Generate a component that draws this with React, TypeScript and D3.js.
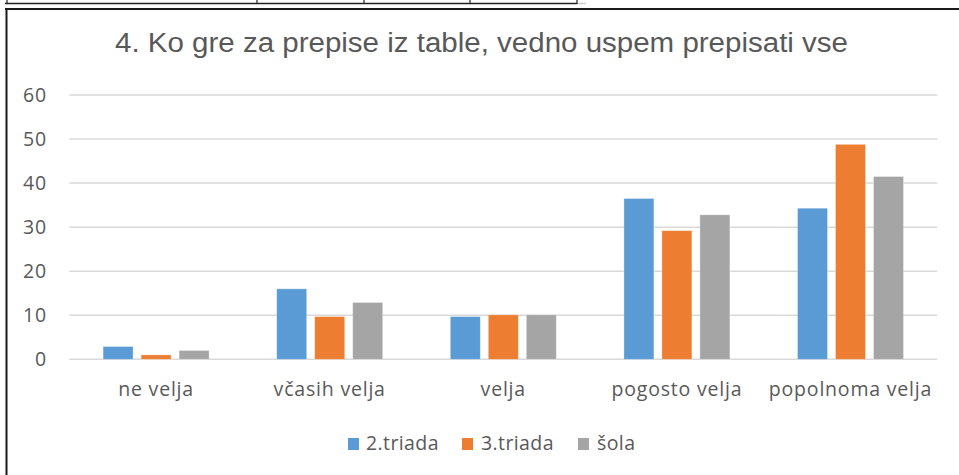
import React from "react";
import * as d3 from "d3";

const categories = ["ne velja", "včasih velja", "velja", "pogosto velja", "popolnoma velja"];
const seriesNames = ["2.triada", "3.triada", "šola"];
const triada2 = [2.9, 16.0, 9.7, 36.5, 34.3];
const triada3 = [1.0, 9.7, 10.1, 29.2, 48.8];
const sola = [2.0, 12.9, 10.1, 32.8, 41.5];
const seriesValues = [triada2, triada3, sola];
const colors = ["#5B9BD5", "#ED7D31", "#A5A5A5"];
const yTicks = [0, 10, 20, 30, 40, 50, 60];
const title = "4. Ko gre za prepise iz table, vedno uspem prepisati vse";

const W = 959;
const H = 475;
const plotLeft = 69.3;
const plotRight = 937.3;
const plotTop = 95;
const plotBottom = 359.3;

export default function App() {
  const x0 = d3.scaleBand<string>().domain(categories).range([plotLeft, plotRight]).paddingInner(0).paddingOuter(0);
  const groupW = 106;
  const off = (x0.bandwidth() - groupW) / 2;
  const x1 = d3.scaleBand<string>().domain(seriesNames).range([off, off + groupW]).paddingInner(8 / 38).paddingOuter(0);
  const y = d3.scaleLinear().domain([0, 60]).range([plotBottom, plotTop]);
  const textColor = "#595959";
  const labelFont = "'Open Sans', sans-serif";
  const fs = 19.5;
  const ls = 0.8;

  const legendItems = [
    { sq: 348, tx: 366 },
    { sq: 462, tx: 481 },
    { sq: 578, tx: 597 },
  ];

  return (
    <svg width={W} height={H} style={{ position: "absolute", left: 0, top: 0, background: "#fff" }}>
      <rect x={0} y={0} width={W} height={H} fill="#fff" />
      {/* spreadsheet table remnants at top */}
      <line x1={5} x2={577} y1={3.5} y2={3.5} stroke="#222" strokeWidth={1.5} />
      <line x1={577} x2={586} y1={3.5} y2={3.5} stroke="#ccc" strokeWidth={1.5} />
      {[7, 257, 364, 470, 577].map((xv) => (
        <line key={xv} x1={xv} x2={xv} y1={0} y2={4} stroke="#222" strokeWidth={1.2} />
      ))}
      {/* chart frame */}
      <line x1={5} x2={W} y1={9} y2={9} stroke="#1a1a1a" strokeWidth={2} />
      <line x1={6.5} x2={6.5} y1={8} y2={H} stroke="#1a1a1a" strokeWidth={2} />

      <text
        x={115}
        y={52}
        textLength={733}
        lengthAdjust="spacingAndGlyphs"
        fontFamily="'Liberation Sans', Arial, sans-serif"
        fontSize={27}
        fill={textColor}
      >
        {title}
      </text>

      {yTicks.map((t) => (
        <g key={t}>
          <line x1={plotLeft} x2={plotRight} y1={y(t)} y2={y(t)} stroke="#D9D9D9" strokeWidth={1.5} />
          <text x={47} y={y(t) + 6.7} textAnchor="end" fontFamily={labelFont} fontSize={fs} letterSpacing={ls} fill={textColor}>
            {t}
          </text>
        </g>
      ))}

      {categories.map((c, ci) => (
        <g key={c} transform={`translate(${x0(c)},0)`}>
          {seriesNames.map((s, si) => {
            const v = seriesValues[si][ci];
            return (
              <rect
                key={s}
                x={x1(s)}
                y={y(v)}
                width={x1.bandwidth()}
                height={y(0) - y(v)}
                fill={colors[si]}
                stroke="#fff"
                strokeOpacity={0.4}
                strokeWidth={0.8}
              />
            );
          })}
          <text x={x0.bandwidth() / 2} y={396} textAnchor="middle" fontFamily={labelFont} fontSize={fs} letterSpacing={ls} fill={textColor}>
            {c}
          </text>
        </g>
      ))}

      {seriesNames.map((s, si) => (
        <g key={s}>
          <rect x={legendItems[si].sq} y={438} width={11} height={12} fill={colors[si]} />
          <text x={legendItems[si].tx} y={450} fontFamily={labelFont} fontSize={fs} letterSpacing={0.4} fill={textColor}>
            {s}
          </text>
        </g>
      ))}
    </svg>
  );
}
